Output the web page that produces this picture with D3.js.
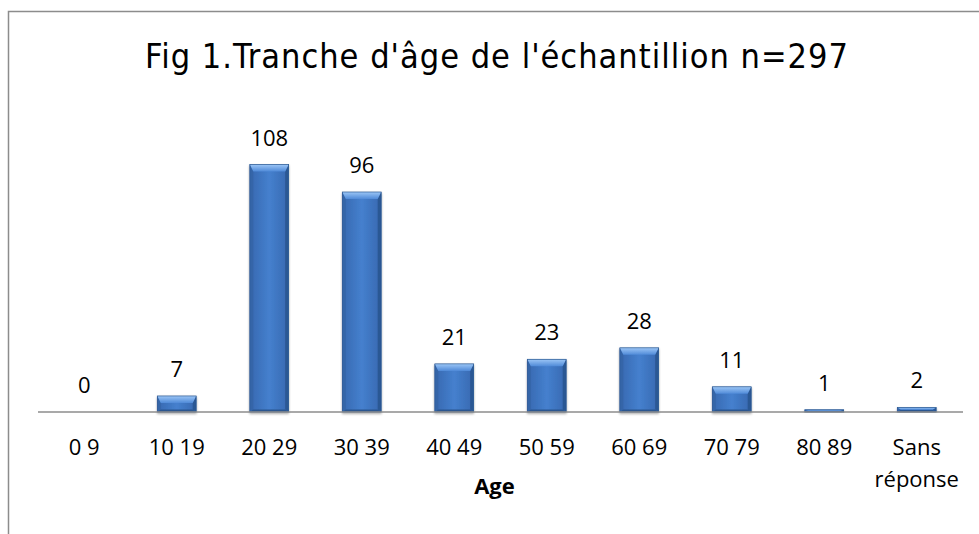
<!DOCTYPE html>
<html>
<head>
<meta charset="utf-8">
<script src="https://cdn.jsdelivr.net/npm/d3@7"></script>
<style>
  body { margin: 0; background: #fff; }
  svg { display: block; }
</style>
</head>
<body>
<svg width="979" height="534"></svg>
<script>
// data
var categories = ["0 9", "10 19", "20 29", "30 39", "40 49", "50 59", "60 69", "70 79", "80 89", "Sans réponse"];
var counts = [0, 7, 108, 96, 21, 23, 28, 11, 1, 2];
var titleText = "Fig 1.Tranche d'âge de l'échantillion n=297";
var axisTitle = "Age";

var svg = d3.select("svg");

var margin = {top: 137, right: 16, bottom: 122, left: 38},
    width = 979 - margin.left - margin.right,
    height = 534 - margin.top - margin.bottom;

// outer frame of the chart area
svg.append("rect")
    .attr("x", 8.5).attr("y", 11.5)
    .attr("width", 1000).attr("height", 600)
    .attr("fill", "none")
    .attr("stroke", "#8c8c8c")
    .attr("stroke-width", 1.5);

// title
svg.append("text")
    .attr("x", 497)
    .attr("y", 68)
    .attr("text-anchor", "middle")
    .style("font-family", "'DejaVu Sans', sans-serif")
    .style("font-stretch", "condensed")
    .style("font-size", "34px")
    .style("letter-spacing", "1px")
    .style("fill", "#000")
    .text(titleText);

var g = svg.append("g")
    .attr("transform", "translate(" + margin.left + "," + margin.top + ")");

// set the ranges
var x = d3.scaleBand().domain(categories).range([0, width]).paddingInner(0.58).paddingOuter(0.29);
var y = d3.scaleLinear().domain([0, 120]).range([height, 0]);

// gradients for the bevelled bars
var defs = svg.append("defs");
var face = defs.append("linearGradient").attr("id", "face")
    .attr("x1", "0").attr("x2", "1").attr("y1", "0").attr("y2", "0");
face.append("stop").attr("offset", "0").attr("stop-color", "#3768b0");
face.append("stop").attr("offset", "0.5").attr("stop-color", "#4580ce");
face.append("stop").attr("offset", "1").attr("stop-color", "#3768b0");

var topg = defs.append("linearGradient").attr("id", "topg")
    .attr("x1", "0").attr("x2", "0").attr("y1", "0").attr("y2", "1");
topg.append("stop").attr("offset", "0").attr("stop-color", "#9cc6f6");
topg.append("stop").attr("offset", "1").attr("stop-color", "#4f8ad8");

// soft shadow below the bars
var shadow = defs.append("filter").attr("id", "shadow")
    .attr("x", "-20%").attr("y", "-20%").attr("width", "140%").attr("height", "140%");
shadow.append("feDropShadow")
    .attr("dx", 0).attr("dy", 1.5).attr("stdDeviation", 1.2)
    .attr("flood-color", "#000").attr("flood-opacity", 0.35);

var bars = g.selectAll(".bar")
    .data(counts)
    .enter().append("g")
    .attr("class", "bar")
    .attr("filter", "url(#shadow)");

bars.each(function(d, i) {
    var el = d3.select(this);
    var x0 = x(categories[i]), bw = x.bandwidth();
    var y0 = y(d), h = y(0) - y(d);
    if (h <= 0) return;
    var b = Math.min(7, h / 2), s = Math.min(3.5, bw / 4), bb = Math.min(2.5, b);

    // main face
    el.append("rect")
        .attr("x", x0).attr("y", y0)
        .attr("width", bw).attr("height", h)
        .attr("fill", "url(#face)");
    // left side
    el.append("path")
        .attr("d", "M" + x0 + "," + y0 + "L" + (x0 + s) + "," + (y0 + b) +
              "L" + (x0 + s) + "," + (y0 + h - bb) + "L" + x0 + "," + (y0 + h) + "Z")
        .attr("fill", "#3465a8");
    // right side
    el.append("path")
        .attr("d", "M" + (x0 + bw) + "," + y0 + "L" + (x0 + bw - s) + "," + (y0 + b) +
              "L" + (x0 + bw - s) + "," + (y0 + h - bb) + "L" + (x0 + bw) + "," + (y0 + h) + "Z")
        .attr("fill", "#2c5894");
    // bottom bevel
    el.append("path")
        .attr("d", "M" + x0 + "," + (y0 + h) + "L" + (x0 + s) + "," + (y0 + h - bb) +
              "L" + (x0 + bw - s) + "," + (y0 + h - bb) + "L" + (x0 + bw) + "," + (y0 + h) + "Z")
        .attr("fill", "#2b5690");
    // top bevel
    el.append("path")
        .attr("d", "M" + x0 + "," + y0 + "L" + (x0 + bw) + "," + y0 +
              "L" + (x0 + bw - s) + "," + (y0 + b) + "L" + (x0 + s) + "," + (y0 + b) + "Z")
        .attr("fill", "url(#topg)");
    // outline
    el.append("rect")
        .attr("x", x0).attr("y", y0)
        .attr("width", bw).attr("height", h)
        .attr("fill", "none")
        .attr("stroke", "#2d5a92")
        .attr("stroke-width", 0.7);
});

// value labels
g.selectAll(".value")
    .data(counts)
    .enter().append("text")
    .attr("class", "value")
    .attr("x", function(d, i) { return x(categories[i]) + x.bandwidth() / 2; })
    .attr("y", function(d) { return y(d) - 19; })
    .attr("text-anchor", "middle")
    .style("font-family", "'Open Sans', sans-serif")
    .style("font-size", "22px")
    .style("fill", "#000")
    .text(function(d) { return d; });

// x axis line
g.append("line")
    .attr("x1", 0).attr("x2", width)
    .attr("y1", y(0)).attr("y2", y(0))
    .attr("stroke", "#8c8c8c")
    .attr("stroke-width", 1.5);

// category labels (wrap on space for "Sans réponse")
g.selectAll(".cat")
    .data(categories)
    .enter().append("text")
    .attr("class", "cat")
    .attr("x", function(d) { return x(d) + x.bandwidth() / 2; })
    .attr("y", y(0) + 43)
    .attr("text-anchor", "middle")
    .style("font-family", "'Open Sans', sans-serif")
    .style("font-size", "22px")
    .style("fill", "#000")
    .each(function(d) {
        var t = d3.select(this);
        if (d === "Sans réponse") {
            t.append("tspan").attr("x", x(d) + x.bandwidth() / 2).text("Sans");
            t.append("tspan").attr("x", x(d) + x.bandwidth() / 2).attr("dy", 32).text("réponse");
        } else {
            t.text(d);
        }
    });

// axis title
g.append("text")
    .attr("x", width / 2 - 6)
    .attr("y", y(0) + 82)
    .attr("text-anchor", "middle")
    .style("font-family", "'Open Sans', sans-serif")
    .style("font-weight", "bold")
    .style("font-size", "22px")
    .style("fill", "#000")
    .text(axisTitle);
</script>
</body>
</html>
